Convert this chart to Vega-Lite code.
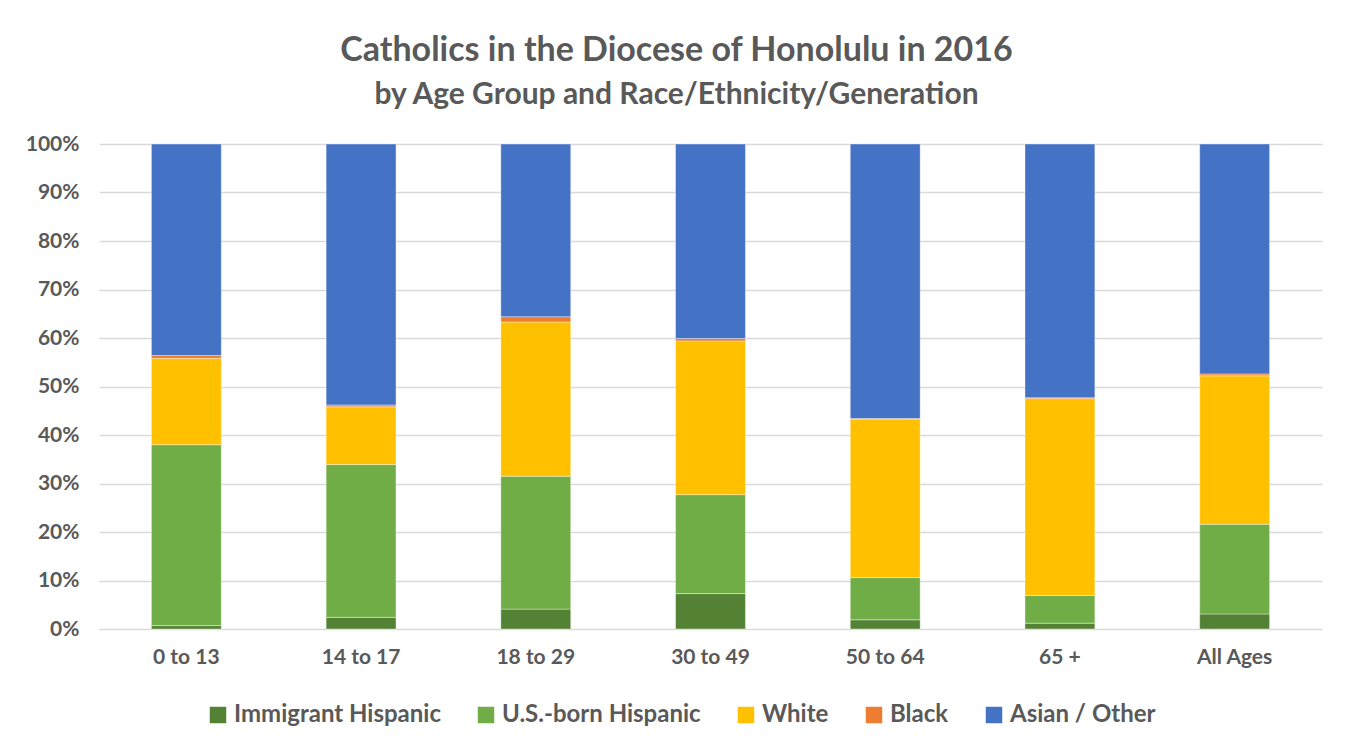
{
  "$schema": "https://vega.github.io/schema/vega-lite/v6.json",
  "width": 1223,
  "height": 485,
  "autosize": {"type": "none"},
  "padding": {"left": 99, "top": 144, "right": 27, "bottom": 122},
  "background": "white",
  "title": {
    "text": "Catholics in the Diocese of Honolulu in 2016",
    "subtitle": "by Age Group and Race/Ethnicity/Generation",
    "anchor": "middle",
    "frame": "group",
    "dx": -34,
    "offset": 23,
    "font": "Lato",
    "fontSize": 34,
    "fontWeight": "bold",
    "color": "#595959",
    "subtitleFont": "Lato",
    "subtitleFontSize": 30,
    "subtitleFontWeight": "bold",
    "subtitleColor": "#595959",
    "subtitlePadding": 12
  },
  "data": {
    "values": [
      {"age": "0 to 13", "group": "Immigrant Hispanic", "pct": 0.7},
      {"age": "0 to 13", "group": "U.S.-born Hispanic", "pct": 37.3},
      {"age": "0 to 13", "group": "White", "pct": 17.8},
      {"age": "0 to 13", "group": "Black", "pct": 0.6},
      {"age": "0 to 13", "group": "Asian / Other", "pct": 43.6},
      {"age": "14 to 17", "group": "Immigrant Hispanic", "pct": 2.4},
      {"age": "14 to 17", "group": "U.S.-born Hispanic", "pct": 31.5},
      {"age": "14 to 17", "group": "White", "pct": 11.9},
      {"age": "14 to 17", "group": "Black", "pct": 0.4},
      {"age": "14 to 17", "group": "Asian / Other", "pct": 53.8},
      {"age": "18 to 29", "group": "Immigrant Hispanic", "pct": 4.1},
      {"age": "18 to 29", "group": "U.S.-born Hispanic", "pct": 27.4},
      {"age": "18 to 29", "group": "White", "pct": 31.8},
      {"age": "18 to 29", "group": "Black", "pct": 1.1},
      {"age": "18 to 29", "group": "Asian / Other", "pct": 35.6},
      {"age": "30 to 49", "group": "Immigrant Hispanic", "pct": 7.3},
      {"age": "30 to 49", "group": "U.S.-born Hispanic", "pct": 20.4},
      {"age": "30 to 49", "group": "White", "pct": 31.7},
      {"age": "30 to 49", "group": "Black", "pct": 0.5},
      {"age": "30 to 49", "group": "Asian / Other", "pct": 40.1},
      {"age": "50 to 64", "group": "Immigrant Hispanic", "pct": 1.9},
      {"age": "50 to 64", "group": "U.S.-born Hispanic", "pct": 8.7},
      {"age": "50 to 64", "group": "White", "pct": 32.6},
      {"age": "50 to 64", "group": "Black", "pct": 0.2},
      {"age": "50 to 64", "group": "Asian / Other", "pct": 56.6},
      {"age": "65 +", "group": "Immigrant Hispanic", "pct": 1.2},
      {"age": "65 +", "group": "U.S.-born Hispanic", "pct": 5.7},
      {"age": "65 +", "group": "White", "pct": 40.6},
      {"age": "65 +", "group": "Black", "pct": 0.2},
      {"age": "65 +", "group": "Asian / Other", "pct": 52.3},
      {"age": "All Ages", "group": "Immigrant Hispanic", "pct": 3.1},
      {"age": "All Ages", "group": "U.S.-born Hispanic", "pct": 18.5},
      {"age": "All Ages", "group": "White", "pct": 30.6},
      {"age": "All Ages", "group": "Black", "pct": 0.4},
      {"age": "All Ages", "group": "Asian / Other", "pct": 47.4}
    ]
  },
  "transform": [
    {"calculate": "indexof(['Immigrant Hispanic','U.S.-born Hispanic','White','Black','Asian / Other'], datum.group)", "as": "stackOrder"}
  ],
  "mark": {"type": "bar", "stroke": "white", "strokeOpacity": 0.5, "strokeWidth": 0.75},
  "encoding": {
    "x": {
      "field": "age",
      "type": "nominal",
      "sort": null,
      "title": null,
      "scale": {"paddingInner": 0.6, "paddingOuter": 0.3},
      "axis": {
        "labelAngle": 0,
        "labelFont": "Lato",
        "labelFontSize": 21,
        "labelFontWeight": "bold",
        "labelColor": "#595959",
        "labelPadding": 17,
        "ticks": false,
        "domain": false
      }
    },
    "y": {
      "field": "pct",
      "type": "quantitative",
      "stack": "zero",
      "title": null,
      "scale": {"domain": [0, 100]},
      "axis": {
        "values": [0, 10, 20, 30, 40, 50, 60, 70, 80, 90, 100],
        "labelExpr": "datum.value + '%'",
        "labelFont": "Lato",
        "labelFontSize": 21,
        "labelFontWeight": "bold",
        "labelColor": "#595959",
        "labelPadding": 20,
        "ticks": false,
        "domain": false,
        "grid": true,
        "gridColor": "#D9D9D9",
        "gridWidth": 1.5
      }
    },
    "order": {"field": "stackOrder", "type": "quantitative", "sort": "ascending"},
    "color": {
      "field": "group",
      "type": "nominal",
      "sort": ["Immigrant Hispanic", "U.S.-born Hispanic", "White", "Black", "Asian / Other"],
      "scale": {
        "domain": ["Immigrant Hispanic", "U.S.-born Hispanic", "White", "Black", "Asian / Other"],
        "range": ["#548235", "#70AD47", "#FFC000", "#ED7D31", "#4472C4"]
      },
      "legend": {
        "title": null,
        "orient": "none",
        "direction": "horizontal",
        "legendX": 107,
        "legendY": 559,
        "symbolType": "square",
        "symbolSize": 272,
        "symbolStrokeWidth": 0,
        "labelFont": "Lato",
        "labelFontSize": 24,
        "labelFontWeight": "bold",
        "labelColor": "#595959",
        "labelLimit": 0,
        "labelOffset": 4,
        "columnPadding": 33
      }
    }
  },
  "config": {
    "view": {"stroke": null}
  }
}
